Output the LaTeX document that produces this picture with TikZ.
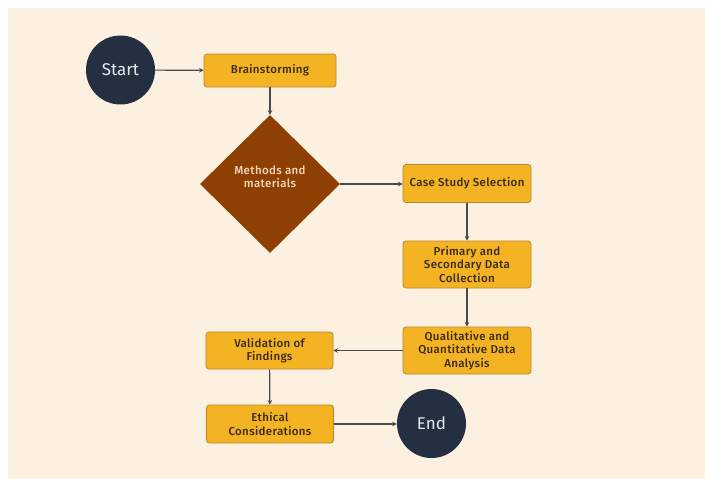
\documentclass[tikz,border=0pt]{standalone}
\usepackage{fontspec}
\setmainfont{Fira Sans}[UprightFont=* Medium, LetterSpace=3]
\newfontfamily\termfont{Fira Sans}
\usetikzlibrary{shapes.geometric,arrows.meta}
\definecolor{bgc}{HTML}{FCF0E1}
\definecolor{boxfill}{HTML}{F4B322}
\definecolor{boxline}{HTML}{B9872C}
\definecolor{boxtext}{HTML}{3A2A12}
\definecolor{brown}{HTML}{8E3F02}
\definecolor{peach}{HTML}{F5D6BC}
\definecolor{navy}{HTML}{243041}
\definecolor{lightt}{HTML}{E6E8EE}
\definecolor{linec}{HTML}{4A4A4A}
\begin{document}
\begin{tikzpicture}[x=1pt,y=-1pt,
  stepbox/.style={draw=boxline, line width=0.8pt, fill=boxfill, rounded corners=3pt,
    text=boxtext, align=center, inner sep=0pt,
    font=\fontsize{11.5}{13.3}\selectfont},
  term/.style={circle, fill=navy, minimum size=69pt, inner sep=0pt, text=lightt,
    font=\termfont\fontsize{17}{20}\selectfont},
  decide/.style={diamond, fill=brown, minimum width=140pt, minimum height=138pt, inner sep=0pt},
  conn/.style={draw=linec, line width=1.2pt, -{Stealth[length=4.5pt,width=4.5pt]}}
]
\useasboundingbox (0,0) rectangle (705,479);
\fill[white] (0,0) rectangle (705,479);
\fill[bgc] (8,8) rectangle (705,479);

\node[term] (start) at (120.5,70) {Start};
\node[stepbox, minimum width=132pt, minimum height=33pt] (brain) at (270,70.5) {Brainstorming};
\node[decide] (dec) at (270,184) {};
\node[text=peach, align=center, font=\fontsize{11.5}{13.3}\selectfont] (dectext) at (270,177) {Methods and\\materials};
\node[stepbox, minimum width=128pt, minimum height=38pt] (case) at (467,183.5) {Case Study Selection};
\node[stepbox, minimum width=128pt, minimum height=47pt] (prim) at (467,264.5) {Primary and\\Secondary Data\\Collection};
\node[stepbox, minimum width=128pt, minimum height=47pt] (qual) at (467,350.5) {Qualitative and\\Quantitative Data\\Analysis};
\node[stepbox, minimum width=127pt, minimum height=37pt] (valid) at (269.5,350.5) {Validation of\\Findings};
\node[stepbox, minimum width=127pt, minimum height=38pt] (ethic) at (270,424) {Ethical\\Considerations};
\node[term] (end) at (431.5,423.5) {End};

\draw[conn] (start) -- (brain);
\draw[conn] (brain) -- (dec);
\draw[conn] (dec.east) -- (case.west |- dec.east);
\draw[conn] (case) -- (prim);
\draw[conn] (prim) -- (qual);
\draw[conn] (qual) -- (valid);
\draw[conn] (valid) -- (ethic);
\draw[conn] (ethic.east) -- (end.west |- ethic.east);
\end{tikzpicture}
\end{document}
